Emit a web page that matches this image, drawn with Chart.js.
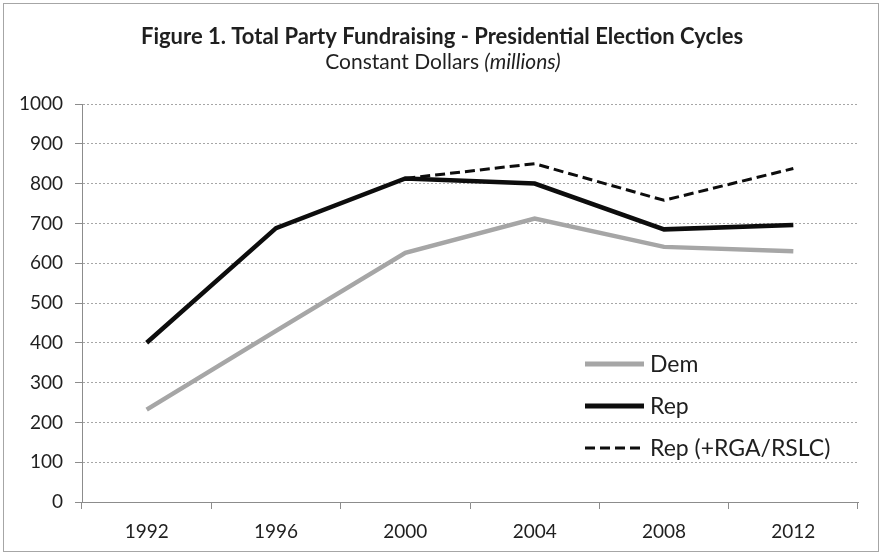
<!DOCTYPE html>
<html>
<head>
<meta charset="utf-8">
<script src="https://cdn.jsdelivr.net/npm/chart.js@4/dist/chart.umd.min.js"></script>
<style>
  body { margin: 0; background: #fff; }
  #wrap { position: relative; width: 882px; height: 557px; }
  #frame {
    position: absolute; left: 3px; top: 3px; width: 874px; height: 547px;
    border: 1px solid #a6a6a6; pointer-events: none;
  }
</style>
</head>
<body>
<div id="wrap">
  <canvas id="chart" width="882" height="557"></canvas>
  <div id="frame"></div>
</div>
<script>
// Election cycles on the x axis
const years = ['1992', '1996', '2000', '2004', '2008', '2012'];

// Party fundraising, constant dollars (millions)
const demValues = [232, 430, 626, 712, 641, 630];
const repValues = [400, 688, 813, 800, 685, 696];
const repPlusValues = [null, null, 813, 850, 758, 838];

const titleText = 'Figure 1. Total Party Fundraising - Presidential Election Cycles';
const subtitleMain = 'Constant Dollars ';
const subtitleItalic = '(millions)';

const FONT = 'Lato, "Liberation Sans", sans-serif';
const TEXT = '#1f1f1f';

// Title + subtitle (subtitle has an italic part, so drawn by hand)
const headings = {
  id: 'headings',
  afterDraw(chart) {
    const { ctx, width } = chart;
    const cx = width / 2;
    ctx.save();
    ctx.fillStyle = TEXT;
    ctx.textBaseline = 'middle';
    ctx.textAlign = 'center';
    ctx.font = 'bold 22px ' + FONT;
    ctx.fillText(titleText, cx + 1, 37);

    ctx.font = '21px ' + FONT;
    const w1 = ctx.measureText(subtitleMain).width;
    ctx.font = 'italic 21px ' + FONT;
    const w2 = ctx.measureText(subtitleItalic).width;
    const start = cx + 2 - (w1 + w2) / 2;
    ctx.textAlign = 'left';
    ctx.font = '21px ' + FONT;
    ctx.fillText(subtitleMain, start, 62);
    ctx.font = 'italic 21px ' + FONT;
    ctx.fillText(subtitleItalic, start + w1, 62);
    ctx.restore();
  }
};

// Legend sitting inside the plot, lower right
const insideLegend = {
  id: 'insideLegend',
  afterDatasetsDraw(chart) {
    const { ctx, chartArea } = chart;
    const x = chartArea.left + 503;
    let y = chartArea.top + 260;
    ctx.save();
    chart.data.datasets.forEach(ds => {
      ctx.strokeStyle = ds.borderColor;
      ctx.lineWidth = ds.legendWidth;
      ctx.setLineDash(ds.borderDash || []);
      ctx.beginPath();
      ctx.moveTo(x, y);
      ctx.lineTo(x + 59, y);
      ctx.stroke();
      ctx.setLineDash([]);
      ctx.fillStyle = TEXT;
      ctx.font = '23px ' + FONT;
      ctx.textBaseline = 'middle';
      ctx.fillText(ds.label, x + 65, y + 1);
      y += 42;
    });
    ctx.restore();
  }
};

const ctx = document.getElementById('chart').getContext('2d');
new Chart(ctx, {
  type: 'line',
  data: {
    labels: years,
    datasets: [
      {
        label: 'Dem',
        data: demValues,
        borderColor: '#a6a6a6',
        borderWidth: 4.5,
        legendWidth: 5,
        pointRadius: 0,
        tension: 0
      },
      {
        label: 'Rep',
        data: repValues,
        borderColor: '#0d0d0d',
        borderWidth: 4.5,
        legendWidth: 5,
        pointRadius: 0,
        tension: 0
      },
      {
        label: 'Rep (+RGA/RSLC)',
        data: repPlusValues,
        borderColor: '#0d0d0d',
        borderWidth: 3,
        borderDash: [10, 5],
        legendWidth: 3,
        pointRadius: 0,
        tension: 0
      }
    ]
  },
  options: {
    responsive: false,
    animation: false,
    layout: { padding: { left: 10, right: 24, top: 104, bottom: 0 } },
    plugins: {
      legend: { display: false },
      tooltip: { enabled: false }
    },
    scales: {
      x: {
        offset: true,
        grid: {
          offset: true,
          drawOnChartArea: false,
          drawTicks: true,
          tickLength: 7,
          tickColor: '#8c8c8c',
          color: '#8c8c8c'
        },
        border: { color: '#8c8c8c', width: 1 },
        ticks: { color: TEXT, font: { family: FONT, size: 19 }, padding: 11 },
        afterFit: s => { s.height = 55; }
      },
      y: {
        min: 0,
        max: 1000,
        ticks: {
          stepSize: 100,
          color: TEXT,
          font: { family: FONT, size: 19 },
          padding: 12,
          callback: v => String(v)
        },
        grid: {
          color: '#a6a6a6',
          tickColor: '#8c8c8c',
          tickLength: 7,
          tickBorderDash: []
        },
        border: { color: '#8c8c8c', width: 1, dash: [2, 2] },
        afterFit: s => { s.width = 72; }
      }
    }
  },
  plugins: [headings, insideLegend]
});
</script>
</body>
</html>
